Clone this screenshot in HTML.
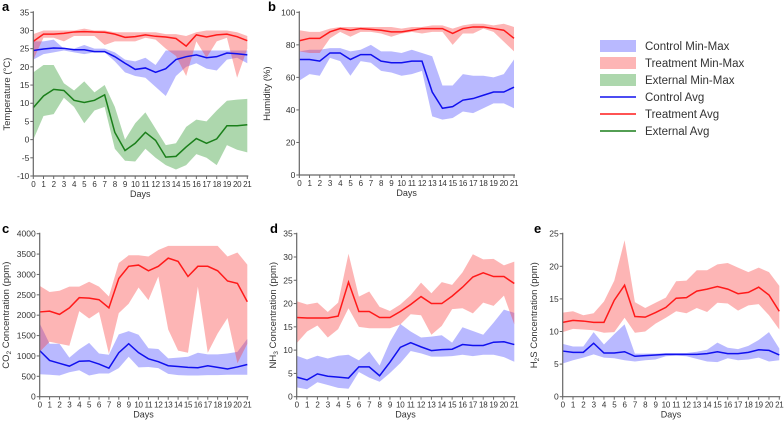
<!DOCTYPE html>
<html><head><meta charset="utf-8"><style>
html,body{margin:0;padding:0;background:#fff}
svg{display:block;font-family:"Liberation Sans",sans-serif}
</style></head><body>
<svg id="c" width="784" height="421" viewBox="0 0 784 421"></svg>
<script>
const days=[0,1,2,3,4,5,6,7,8,9,10,11,12,13,14,15,16,17,18,19,20,21];
// Panel a temperature
const aTrtAvg=[27,29,29,29.2,29.6,29.7,29.6,29.5,29,28.1,28.3,28.8,28.4,28.2,27.8,25.7,28.8,28.2,28.8,29,28.3,27.2];
const aTrtMin=[22,28,28,27,28.5,28.5,28.5,26,27,27,27,28,27.5,25,23,17.5,27,22.5,27,28,17,25];
const aTrtMax=[29,30,30,30,30,30.5,30,30,29.5,29.5,29.5,29.5,29.5,29,29,28.5,29.5,30,30,30,29.5,28.5];
const aCtlAvg=[24.5,24.9,25.2,25.1,24.7,24.7,24.2,24.2,22.8,21,19.3,19.7,18.5,19.5,22,22.8,23.3,22.5,22.8,23.8,23.6,23.3];
const aCtlMin=[22,23.5,24,24.5,24,23.5,24,24,21.5,18.5,17.5,17,14.5,12,17.5,20,21,19.5,19,22,22.5,21];
const aCtlMax=[27,27,27.5,25,25,26,25,25,24,22,21.5,22.5,20.5,24.5,24.5,24.5,24.5,24.5,24.5,24.5,24.5,24.5];
const aExtAvg=[8.8,12,13.8,13.5,10.8,10.2,10.8,12.3,2,-3,-1,2,-0.2,-4.8,-4.6,-2,0.3,-1,0.2,3.8,3.8,4.1];
const aExtMin=[0,6.5,7,11.5,9,4.5,8,9,-2.5,-5.8,-6,-2.5,-5,-7,-8.2,-7,-4,-5,-7,-1.5,-2.8,-3.5];
const aExtMax=[18.5,20.5,20.5,15.5,13.5,16,13,15,9,0,4.5,7.5,3,-1.5,-1,3.5,5.5,5,8,10.7,11,11.2];
const aTicks=[-10,-5,0,5,10,15,20,25,30,35];
// Panel b humidity
const bTrtAvg=[82.5,84,84,88,90,89,90,89.5,89,88,88,89,90,90,90,87,90,91,91,90,89,84];
const bTrtMin=[76,75,75,84,88,85,88,88,87,85,87,88,87,88,88,80,87,87,90,88,82,76];
const bTrtMax=[89,88,88,90,91,91,91,91,91,91,90,91,91,92,92,90,92,93,93,92,93,91];
const bCtlAvg=[71,71,70,75,75,71,74,74,70,69,69,70,70,51,41,42,46,47,49,51,51,54];
const bCtlMin=[58,62,61,72,70,61,70,69,64,63,61,62,64,36,34,35,39,38,41,44,44,41];
const bCtlMax=[76,77,77,78,78,76,77,80,76,76,75,77,75,73,55,55,62,61,61,60,62,71];
const bTicks=[0,20,40,60,80,100];
// Panel c CO2
const cTrtAvg=[2080,2100,2020,2180,2430,2420,2380,2180,2900,3200,3230,3090,3200,3400,3320,2950,3200,3200,3090,2840,2780,2330];
const cTrtMin=[1100,1350,1300,1250,2100,1920,2080,1050,2050,2280,2680,2370,2950,1650,1130,1080,2700,1080,1550,1930,820,1300];
const cTrtMax=[2720,2570,2600,2700,2700,2820,2700,2460,3280,3470,3470,3440,3600,3700,3700,3700,3700,3700,3700,3440,3540,3240];
const cCtlAvg=[1130,890,820,750,870,880,800,700,1080,1300,1080,930,860,760,740,720,710,760,720,680,730,790];
const cCtlMin=[550,540,520,600,650,520,570,570,700,980,720,730,700,560,530,520,520,530,530,540,540,540];
const cCtlMax=[1800,1300,1300,960,1160,1320,1060,1030,1530,1610,1520,1190,1170,940,960,980,1080,1040,1040,1060,1100,1420];
const cTicks=[0,500,1000,1500,2000,2500,3000,3500,4000];
// Panel d NH3
const dTrtAvg=[17,16.9,16.9,16.9,17.3,24.6,18.3,18.3,17,17,18.3,19.8,21.5,20,20,21.6,23.5,25.7,26.6,25.8,25.8,24.3];
const dTrtMin=[11.5,14,15.3,12.7,14.5,19,15,14.7,14.7,14.7,15.5,17.7,17.5,13.3,15.2,18.8,19,17.9,20.2,19.5,21.7,15.5];
const dTrtMax=[20.5,19.8,20.2,18.2,20.2,30.7,21.5,22.6,19.3,18.4,19.8,21.8,24.5,22.2,24.6,24,26.7,30.6,29.5,29.6,28.2,29];
const dCtlAvg=[4.2,3.6,4.9,4.4,4.2,4,6.4,6.4,4.5,7.4,10.6,11.6,10.7,9.9,10.1,10.2,11.2,11,11,11.7,11.8,11.2];
const dCtlMin=[2,1.6,3.1,2.5,1.9,1.7,5.3,4.1,3.2,5.1,7.2,9.8,9.3,8.6,8.6,8.7,9,8.7,9,9,8.5,7.5];
const dCtlMax=[8.8,8,8.8,8.2,8.8,9,7.8,9.7,6.7,11.8,15.6,14,12.7,12.9,13.2,11.6,14.9,14.1,13.3,15.9,18.7,18];
const dTicks=[0,5,10,15,20,25,30,35];
// Panel e H2S
const eTrtAvg=[11.4,11.7,11.6,11.4,11.4,14.8,17.1,12.3,12.2,12.9,13.7,15.1,15.2,16.2,16.5,16.9,16.5,15.8,16,16.8,15.6,13.1];
const eTrtMin=[9.9,10.4,10.3,10.2,9.8,9.9,12.1,9.8,10,11.2,12.1,13.1,12.8,13.6,13,14.4,14.3,13.2,14,14.2,12.5,10.3];
const eTrtMax=[12.9,13.1,12.5,12.8,14.6,17.8,24,14.5,13.6,14.4,15.2,17.7,17.8,19.4,19.4,20.3,20.5,19.8,19.1,19.8,19.1,17];
const eCtlAvg=[7,6.8,6.8,8.2,6.7,6.7,6.9,6.2,6.3,6.4,6.5,6.5,6.5,6.5,6.6,6.9,6.6,6.6,6.8,7.2,7.1,6.4];
const eCtlMin=[5.1,5.6,6,6.5,6,5.9,5.6,5.4,5.6,5.7,6.2,6.3,6.2,5.8,5.4,5.3,5.9,5.6,5.7,6,5.4,5.6];
const eCtlMax=[8.1,7.7,7.7,9.9,8,9.6,11.1,6.6,6.6,6.6,6.7,6.7,6.7,6.9,7.2,8.3,7.5,7.3,7.8,8.7,9.9,7.4];
const eTicks=[0,5,10,15,20,25];

const NS="http://www.w3.org/2000/svg";
const svg=document.getElementById('c');
function mk(tag,attrs,parent,text){const e=document.createElementNS(NS,tag);for(const k in attrs)e.setAttribute(k,attrs[k]);if(text!==undefined)e.textContent=text;(parent||svg).appendChild(e);return e;}
const BLUE_F='rgba(70,70,255,0.38)',RED_F='rgba(250,60,60,0.38)',GREEN_F='rgba(40,150,40,0.38)';
function panel(p){
  const g=mk('g',{});
  
  
  const xs=d=>p.x0+(p.x1-p.x0)*d/21;
  const ys=v=>p.yb+(p.yt-p.yb)*(v-p.ymin)/(p.ymax-p.ymin);
  p.bands.forEach(b=>{
    let pts=days.map((d,i)=>xs(d)+','+ys(b.max[i]));
    pts=pts.concat(days.slice().reverse().map((d,j)=>{const i=21-j;return xs(d)+','+ys(b.min[i]);}));
    const e=mk('polygon',{points:pts.join(' '),fill:b.fill,stroke:'none'},g);
    
    
  });
  p.lines.forEach(l=>{
    const e=mk('polyline',{points:days.map((d,i)=>xs(d)+','+ys(l.v[i])).join(' '),fill:'none',stroke:l.c,'stroke-width':1.5},g);
    
    
  });
  const ax=mk('path',{d:`M${p.x0},${p.yt-1}V${p.yb}H${p.x1+1}`,stroke:'#666',fill:'none','stroke-width':1.2},g);
  
  
  p.ticks.forEach(t=>{
    const y=ys(t);
    mk('line',{x1:p.x0-3,x2:p.x0,y1:y,y2:y,stroke:'#666'},g);
    const tl=mk('text',{x:p.x0-4,y:y+3,'font-size':8.5,'text-anchor':'end',fill:'#333'},g,String(t));
    
    
  });
  days.forEach(d=>{
    const x=xs(d);
    mk('line',{x1:x,x2:x,y1:p.yb,y2:p.yb+3,stroke:'#666'},g);
    const tl=mk('text',{x:x,y:p.yb+11,'font-size':8,'letter-spacing':'-0.3','text-anchor':'middle',fill:'#333'},g,String(d));
    
    
  });
  const xt=mk('text',{x:(p.x0+p.x1)/2,y:p.yb+21,'font-size':9,'text-anchor':'middle',fill:'#333'},g,'Days');
  
  
  const yt=mk('text',{x:0,y:0,'font-size':9.5,'text-anchor':'middle',fill:'#333',transform:`translate(${p.ytx},${(p.yt+p.yb)/2}) rotate(-90)`},g);
  yt.innerHTML=p.ytitle;
  
  
  const lt=mk('text',{x:p.lx,y:p.ly,'font-size':13,'font-weight':'bold',fill:'#000'},g,p.letter);
  
  
}
const tb=(min,max,name,fill)=>({min,max,name,fill});
panel({letter:'a',x0:33.3,x1:247.3,yt:12.3,yb:176,ymin:-10,ymax:35,ticks:aTicks,ytx:10,ytitle:'Temperature (°C)',lx:2,ly:11,
 bands:[tb(aExtMin,aExtMax,'external-band',GREEN_F),tb(aCtlMin,aCtlMax,'control-band',BLUE_F),tb(aTrtMin,aTrtMax,'treatment-band',RED_F)],
 lines:[{v:aExtAvg,c:'#1a7f1a',name:'external-avg-line'},{v:aCtlAvg,c:'#1010ee',name:'control-avg-line'},{v:aTrtAvg,c:'#ff1a1a',name:'treatment-avg-line'}]});
panel({letter:'b',x0:299.3,x1:514,yt:12.3,yb:175,ymin:0,ymax:100,ticks:bTicks,ytx:270,ytitle:'Humidity (%)',lx:268,ly:11,
 bands:[tb(bCtlMin,bCtlMax,'control-band',BLUE_F),tb(bTrtMin,bTrtMax,'treatment-band',RED_F)],
 lines:[{v:bCtlAvg,c:'#1010ee',name:'control-avg-line'},{v:bTrtAvg,c:'#ff1a1a',name:'treatment-avg-line'}]});
panel({letter:'c',x0:39.7,x1:247.3,yt:233.7,yb:396.7,ymin:0,ymax:4000,ticks:cTicks,ytx:9,ytitle:'CO<tspan font-size="6.5" dy="2">2</tspan><tspan dy="-2"> Concentration (ppm)</tspan>',lx:2,ly:233,
 bands:[tb(cCtlMin,cCtlMax,'control-band',BLUE_F),tb(cTrtMin,cTrtMax,'treatment-band',RED_F)],
 lines:[{v:cCtlAvg,c:'#1010ee',name:'control-avg-line'},{v:cTrtAvg,c:'#ff1a1a',name:'treatment-avg-line'}]});
panel({letter:'d',x0:296.7,x1:514.3,yt:233.7,yb:396.7,ymin:0,ymax:35,ticks:dTicks,ytx:276,ytitle:'NH<tspan font-size="6.5" dy="2">3</tspan><tspan dy="-2"> Concentration (ppm)</tspan>',lx:270,ly:233,
 bands:[tb(dCtlMin,dCtlMax,'control-band',BLUE_F),tb(dTrtMin,dTrtMax,'treatment-band',RED_F)],
 lines:[{v:dCtlAvg,c:'#1010ee',name:'control-avg-line'},{v:dTrtAvg,c:'#ff1a1a',name:'treatment-avg-line'}]});
panel({letter:'e',x0:562.7,x1:779.3,yt:233.7,yb:396.7,ymin:0,ymax:25,ticks:eTicks,ytx:537,ytitle:'H<tspan font-size="6.5" dy="2">2</tspan><tspan dy="-2">S Concentration (ppm)</tspan>',lx:534,ly:233,
 bands:[tb(eCtlMin,eCtlMax,'control-band',BLUE_F),tb(eTrtMin,eTrtMax,'treatment-band',RED_F)],
 lines:[{v:eCtlAvg,c:'#1010ee',name:'control-avg-line'},{v:eTrtAvg,c:'#ff1a1a',name:'treatment-avg-line'}]});
const leg=mk('g',{});


const legItems=[
 {t:'Control Min-Max',f:BLUE_F,k:'band',n:'legend-control-minmax'},
 {t:'Treatment Min-Max',f:RED_F,k:'band',n:'legend-treatment-minmax'},
 {t:'External Min-Max',f:GREEN_F,k:'band',n:'legend-external-minmax'},
 {t:'Control Avg',f:'#1010ee',k:'line',n:'legend-control-avg'},
 {t:'Treatment Avg',f:'#ff1a1a',k:'line',n:'legend-treatment-avg'},
 {t:'External Avg',f:'#1a7f1a',k:'line',n:'legend-external-avg'}];
legItems.forEach((it,i)=>{
  const y=46+i*17;
  const g=mk('g',{},leg);
  
  
  if(it.k==='band')mk('rect',{x:600,y:y-6,width:36,height:12,fill:it.f},g);
  else mk('line',{x1:600,x2:636,y1:y,y2:y,stroke:it.f,'stroke-width':1.5},g);
  mk('text',{x:645,y:y+4,'font-size':11.5,fill:'#333'},g,it.t);
});
</script>
</body></html>
